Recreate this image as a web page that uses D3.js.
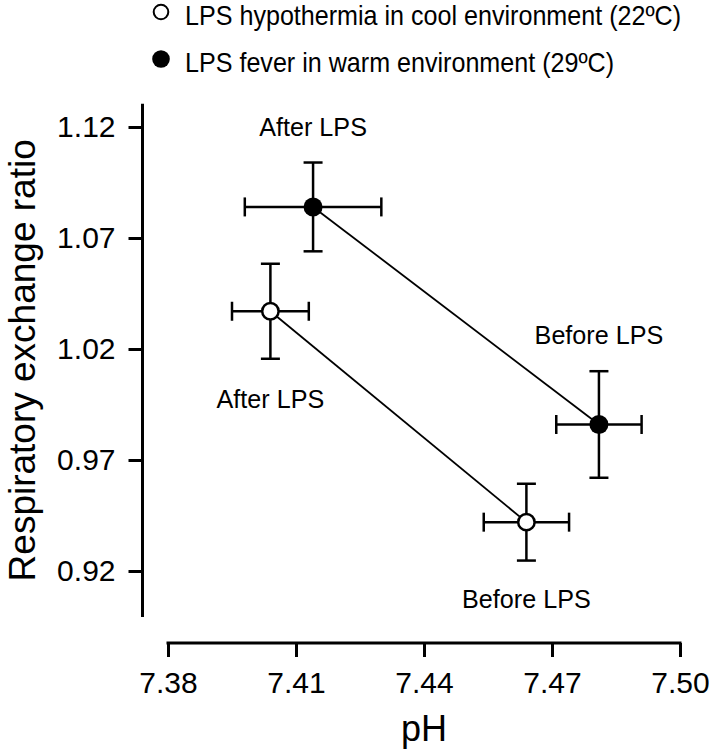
<!DOCTYPE html>
<html>
<head>
<meta charset="utf-8">
<script src="https://cdn.jsdelivr.net/npm/d3@7/dist/d3.min.js"></script>
<style>
  html, body { margin: 0; padding: 0; background: #fff; }
  svg { display: block; }
  text { font-family: "Liberation Sans", Arial, Helvetica, sans-serif; fill: #000; }
</style>
</head>
<body>
<svg id="chart" width="709" height="750"></svg>
<script>
// ---- data ----
const seriesNames = ["LPS hypothermia in cool environment (22ºC)", "LPS fever in warm environment (29ºC)"];
const conditions = ["Before LPS", "After LPS"];
const coolPH = [7.464, 7.404];
const coolPHErr = [0.010, 0.009];
const coolRER = [0.942, 1.037];
const coolRERErr = [0.0173, 0.0214];
const warmPH = [7.481, 7.414];
const warmPHErr = [0.010, 0.016];
const warmRER = [0.986, 1.084];
const warmRERErr = [0.024, 0.020];
const xTicks = [7.38, 7.41, 7.44, 7.47, 7.50];
const yTicks = [0.92, 0.97, 1.02, 1.07, 1.12];
const xTitle = "pH";
const yTitle = "Respiratory exchange ratio";

// ---- layout ----
const svg = d3.select("#chart");
const x = d3.scaleLinear().domain([7.38, 7.50]).range([168, 680]);
const y = d3.scaleLinear().domain([0.92, 1.12]).range([571, 127]);
const yAxisX = 142.5;
const xAxisY = 643;
const font = "'Liberation Sans', Arial, sans-serif";

// y axis
const gy = svg.append("g").attr("transform", `translate(${yAxisX},0)`)
  .call(d3.axisLeft(y).tickValues(yTicks).tickFormat(d3.format(".2f")).tickSize(14).tickPadding(13).tickSizeOuter(0));
gy.select(".domain").remove();
gy.selectAll(".tick line").attr("stroke", "#000").attr("stroke-width", 3);
gy.selectAll(".tick text").attr("font-size", 30).attr("font-family", font).attr("fill", "#000");
svg.append("line").attr("x1", yAxisX).attr("x2", yAxisX)
  .attr("y1", y(1.1305)).attr("y2", y(0.8993))
  .attr("stroke", "#000").attr("stroke-width", 3);

// x axis
const gx = svg.append("g").attr("transform", `translate(0,${xAxisY})`)
  .call(d3.axisBottom(x).tickValues(xTicks).tickFormat(d3.format(".2f")).tickSize(14).tickPadding(15).tickSizeOuter(0));
gx.select(".domain").remove();
gx.selectAll(".tick line").attr("stroke", "#000").attr("stroke-width", 3);
gx.selectAll(".tick text").attr("font-size", 30).attr("font-family", font).attr("fill", "#000");
svg.append("line").attr("x1", x(7.38) - 1.5).attr("x2", x(7.50) + 1.5)
  .attr("y1", xAxisY).attr("y2", xAxisY)
  .attr("stroke", "#000").attr("stroke-width", 3);

// axis titles
svg.append("text").attr("x", (x(7.38) + x(7.50)) / 2).attr("y", 741)
  .attr("text-anchor", "middle").attr("font-size", 36).text(xTitle);
svg.append("text").attr("transform", `translate(35,${(y(1.1305) + y(0.8993)) / 2}) rotate(-90)`)
  .attr("text-anchor", "middle").attr("font-size", 37).text(yTitle);

// series
const series = [
  { name: seriesNames[0], ph: coolPH, phe: coolPHErr, r: coolRER, re: coolRERErr, fill: "#fff",
    labelDy: [86, 97] },
  { name: seriesNames[1], ph: warmPH, phe: warmPHErr, r: warmRER, re: warmRERErr, fill: "#000",
    labelDy: [-80, -71] }
];
const cap = 9.5;

series.forEach(s => {
  // connecting line
  svg.append("line")
    .attr("x1", x(s.ph[0])).attr("y1", y(s.r[0]))
    .attr("x2", x(s.ph[1])).attr("y2", y(s.r[1]))
    .attr("stroke", "#000").attr("stroke-width", 1.8);
  conditions.forEach((c, i) => {
    const cx = x(s.ph[i]), cy = y(s.r[i]);
    const g = svg.append("g").attr("stroke", "#000").attr("stroke-width", 2.5);
    const x0 = x(s.ph[i] - s.phe[i]), x1 = x(s.ph[i] + s.phe[i]);
    const y0 = y(s.r[i] + s.re[i]), y1 = y(s.r[i] - s.re[i]);
    g.append("line").attr("x1", x0).attr("x2", x1).attr("y1", cy).attr("y2", cy);
    g.append("line").attr("x1", x0).attr("x2", x0).attr("y1", cy - cap).attr("y2", cy + cap);
    g.append("line").attr("x1", x1).attr("x2", x1).attr("y1", cy - cap).attr("y2", cy + cap);
    g.append("line").attr("x1", cx).attr("x2", cx).attr("y1", y0).attr("y2", y1);
    g.append("line").attr("x1", cx - cap).attr("x2", cx + cap).attr("y1", y0).attr("y2", y0);
    g.append("line").attr("x1", cx - cap).attr("x2", cx + cap).attr("y1", y1).attr("y2", y1);
    svg.append("circle").attr("cx", cx).attr("cy", cy)
      .attr("r", s.fill === "#000" ? 9.5 : 8.2)
      .attr("fill", s.fill).attr("stroke", "#000").attr("stroke-width", s.fill === "#000" ? 0 : 2.5);
    svg.append("text").attr("transform", `translate(${cx},${cy + s.labelDy[i]}) scale(0.95,1)`)
      .attr("text-anchor", "middle").attr("font-size", 26.5).text(c);
  });
});

// legend
const legend = svg.append("g");
series.forEach((s, i) => {
  const ly = 12 + i * 47;
  legend.append("circle").attr("cx", 161).attr("cy", ly)
    .attr("r", s.fill === "#000" ? 8.8 : 7.3)
    .attr("fill", s.fill).attr("stroke", "#000").attr("stroke-width", s.fill === "#000" ? 0 : 2);
  legend.append("text").attr("transform", `translate(185,${ly + 12.5}) scale(0.93,1)`)
    .attr("font-size", 27).text(s.name);
});
</script>
</body>
</html>
